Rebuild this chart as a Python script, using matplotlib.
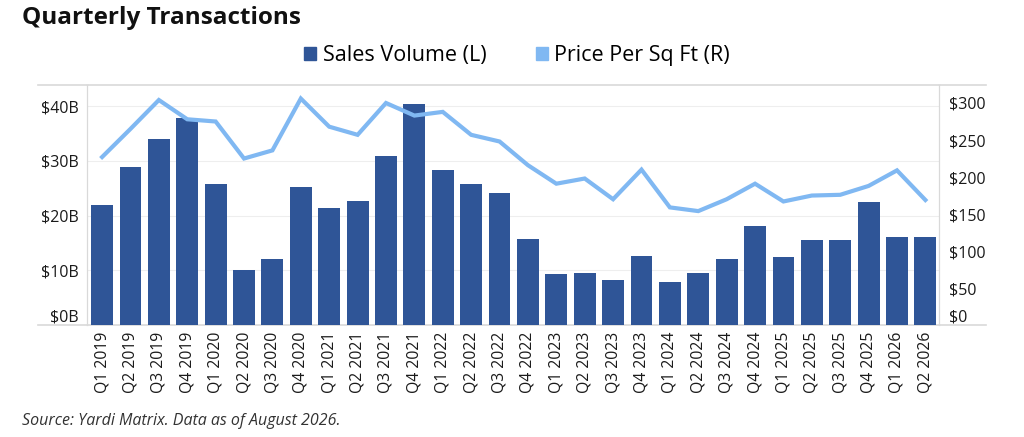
import matplotlib.pyplot as plt
from matplotlib.lines import Line2D
from matplotlib.patches import Patch

plt.rcParams["font.family"] = ["Open Sans", "DejaVu Sans"]

quarters = [
    "Q1 2019", "Q2 2019", "Q3 2019", "Q4 2019",
    "Q1 2020", "Q2 2020", "Q3 2020", "Q4 2020",
    "Q1 2021", "Q2 2021", "Q3 2021", "Q4 2021",
    "Q1 2022", "Q2 2022", "Q3 2022", "Q4 2022",
    "Q1 2023", "Q2 2023", "Q3 2023", "Q4 2023",
    "Q1 2024", "Q2 2024", "Q3 2024", "Q4 2024",
    "Q1 2025", "Q2 2025", "Q3 2025", "Q4 2025",
    "Q1 2026", "Q2 2026",
]

# sales volume, $ billions (left axis)
sales_volume = [
    21.9, 28.9, 34.0, 37.9,
    25.8, 10.0, 12.1, 25.2,
    21.4, 22.7, 30.8, 40.4,
    28.4, 25.8, 24.1, 15.8,
    9.4, 9.6, 8.2, 12.7,
    7.9, 9.6, 12.1, 18.1,
    12.5, 15.5, 15.5, 22.4,
    16.1, 16.1,
]

# price per sq ft, $ (right axis)
price_sqft = [
    227, 265, 304, 278,
    275, 225, 236, 306,
    268, 257, 300, 283,
    288, 257, 248, 216,
    191, 198, 170, 210,
    159, 154, 170, 191,
    167, 175, 176, 188,
    209, 169,
]

left_ticks = [0, 10, 20, 30, 40]
right_ticks = [0, 50, 100, 150, 200, 250, 300]

bar_color = "#2F5597"
line_color = "#80B8F2"
frame_color = "#D9D9D9"
text_color = "#1A1A1A"

fig = plt.figure(figsize=(10.24, 4.37), dpi=100)
ax = fig.add_axes([0.085, 0.256, 0.832, 0.549])
ax2 = ax.twinx()

x = range(len(quarters))
ax.bar(x, sales_volume, width=0.77, color=bar_color, zorder=2)
ax2.plot(x, price_sqft, color=line_color, linewidth=3, solid_joinstyle="miter", zorder=3)

ax.set_xlim(-0.53, len(quarters) - 0.52)
ax.set_ylim(0, 43.8)
ax2.set_ylim(0, 324)

ax.set_yticks(left_ticks)
ax.set_yticklabels([f"${v}B" for v in left_ticks])
ax2.set_yticks(right_ticks)
ax2.set_yticklabels([f"${v}" for v in right_ticks])
ax.set_xticks(list(x))
ax.set_xticklabels(quarters, rotation=90)

ax.tick_params(axis="y", length=0, pad=6, labelsize=11.5, labelcolor=text_color)
ax2.tick_params(axis="y", length=0, pad=7, labelsize=11.5, labelcolor=text_color)
ax.tick_params(axis="x", length=0, pad=5, labelsize=11.3, labelcolor=text_color)

# the zero labels sit just above the bottom rule
ax.get_yticklabels()[0].set_va("bottom")
ax2.get_yticklabels()[0].set_va("bottom")

ax.grid(axis="y", color="#EEEEEE", linewidth=0.8, zorder=0)
ax.set_axisbelow(True)

for a in (ax, ax2):
    a.spines["top"].set_visible(False)
    a.spines["bottom"].set_visible(False)
    a.spines["left"].set_color(frame_color)
    a.spines["right"].set_color(frame_color)

# top and bottom rules run a bit past the axes on both sides
for yy in (0, 1):
    ax.add_line(Line2D([-0.0575, 1.055], [yy, yy], transform=ax.transAxes,
                       color=frame_color, linewidth=1.2, clip_on=False, zorder=1))

handles = [Patch(color=bar_color), Patch(color=line_color)]
fig.legend(handles, ["Sales Volume (L)", "Price Per Sq Ft (R)"],
           loc="center", bbox_to_anchor=(0.505, 0.872), ncol=2, frameon=False,
           fontsize=15.5, handlelength=0.55, handleheight=0.55, handletextpad=0.3,
           columnspacing=2.3)

fig.text(0.021, 0.958, "Quarterly Transactions", fontsize=17.5, fontweight="bold",
         va="center", ha="left", color="#111111")
fig.text(0.021, 0.037, "Source: Yardi Matrix. Data as of August 2026.", fontsize=11.5,
         style="italic", va="center", ha="left", color="#333333")

fig.savefig("out.png", dpi=100)
